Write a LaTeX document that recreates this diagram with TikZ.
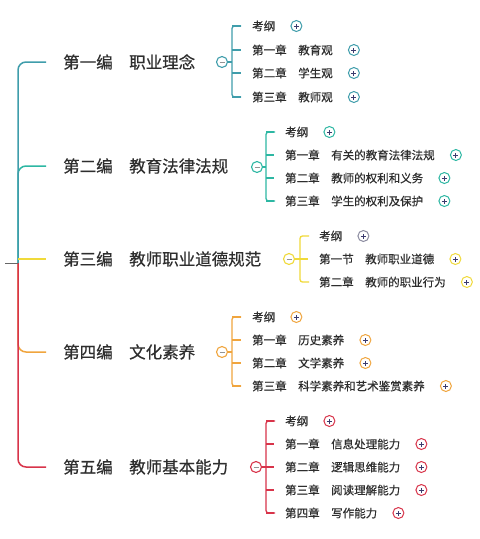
\documentclass[tikz,border=0pt]{standalone}
\usepackage{fontspec}
\setmainfont{Noto Sans CJK SC}
\newfontfamily\heavyfont{Noto Sans CJK SC}[FakeBold=0.5]
\usetikzlibrary{calc}
\definecolor{txt}{HTML}{2E2E2E}
\definecolor{cA}{HTML}{3F9DAB}
\definecolor{cB}{HTML}{2DB7A3}
\definecolor{cC}{HTML}{F0DA3A}
\definecolor{cD}{HTML}{F0A53E}
\definecolor{cE}{HTML}{D8344A}
\definecolor{pluscol}{HTML}{3B3B6E}
\definecolor{greyc}{HTML}{8C8CA0}
\definecolor{rootc}{HTML}{666666}
\tikzset{
  sec/.style={anchor=west, inner sep=0pt, font=\heavyfont\fontsize{16.5}{18}\selectfont, text=txt},
  chd/.style={anchor=west, inner sep=0pt, font=\heavyfont\fontsize{11.5}{13}\selectfont, text=txt},
  branchline/.style={draw=#1, line width=1.5pt, rounded corners=8pt},
  bracketline/.style={draw=#1, line width=1.3pt, rounded corners=2.5pt},
  plusc/.style={circle, draw=#1, line width=1pt, minimum size=11pt, inner sep=0pt, fill=white,
    path picture={
      \draw[pluscol, line width=0.9pt] ([xshift=-2.5pt]path picture bounding box.center) -- ([xshift=2.5pt]path picture bounding box.center);
      \draw[pluscol, line width=0.9pt] ([yshift=-2.5pt]path picture bounding box.center) -- ([yshift=2.5pt]path picture bounding box.center);
    }},
  minusc/.style={circle, draw=#1, line width=1.1pt, minimum size=11pt, inner sep=0pt, fill=white,
    path picture={
      \draw[rootc!70, line width=0.8pt] ([xshift=-2.5pt]path picture bounding box.center) -- ([xshift=2.5pt]path picture bounding box.center);
    }},
}
\begin{document}
\begin{tikzpicture}[x=1pt, y=-1pt]
\useasboundingbox[fill=white] (0,0) rectangle (480,539);

% root
\coordinate (root) at (18,263);
\coordinate (rootend) at (5,263);

% section nodes
\node[sec] (s1) at (63,62) {第一编　职业理念};
\node[sec] (s2) at (63,166) {第二编　教育法律法规};
\node[sec] (s3) at (63,259) {第三编　教师职业道德规范};
\node[sec] (s4) at (63,352) {第四编　文化素养};
\node[sec] (s5) at (63,467) {第五编　教师基本能力};

% section branches
\draw[branchline=cB] (root) -- (18,166) -- ([xshift=-17pt]s2.west);
\draw[branchline=cA] (root) -- (18,62) -- ([xshift=-17pt]s1.west);
\draw[branchline=cD] (root) -- (18,352) -- ([xshift=-17pt]s4.west);
\draw[branchline=cE] (root) -- (18,467) -- ([xshift=-17pt]s5.west);
\draw[draw=cC, line width=1.5pt] (18,259) -- ([xshift=-17pt]s3.west);
\draw[rootc, line width=1pt] (rootend) -- (root);

% ---------- section 1 ----------
\node[minusc=cA] (m1) at (222,62) {};
\draw[bracketline=cA] (241,26) -- (232,26) -- (232,97) -- (241,97);
\draw[cA, line width=1.3pt] (m1.east) -- (232,62);
\foreach \t/\y [count=\i] in {考纲/26, 第一章　教育观/50, 第二章　学生观/73, 第三章　教师观/97}{
  \node[chd] (a\i) at (252,\y) {\t};
  \node[plusc=cA] (pa\i) at ($(a\i.east)+(21,0)$) {};
  \draw[cA, line width=1.3pt] (232,\y) -- ([xshift=-11pt]a\i.west);
}

% ---------- section 2 ----------
\node[minusc=cB] (m2) at (257,167) {};
\draw[bracketline=cB] (275,132) -- (266,132) -- (266,201) -- (275,201);
\draw[cB, line width=1.3pt] (m2.east) -- (266,167);
\foreach \t/\y [count=\i] in {考纲/132, 第一章　有关的教育法律法规/155, 第二章　教师的权利和义务/178, 第三章　学生的权利及保护/201}{
  \node[chd] (b\i) at (285,\y) {\t};
  \node[plusc=cB] (pb\i) at ($(b\i.east)+(21,0)$) {};
  \draw[cB, line width=1.3pt] (266,\y) -- ([xshift=-11pt]b\i.west);
}

% ---------- section 3 ----------
\node[minusc=cC] (m3) at (289,259) {};
\draw[bracketline=cC] (309,236) -- (300,236) -- (300,282) -- (309,282);
\draw[cC, line width=1.3pt] (m3.east) -- (300,259);
\node[chd] (c1) at (319,236) {考纲};
\node[chd] (c2) at (319,259) {第一节　教师职业道德};
\node[chd] (c3) at (319,282) {第二章　教师的职业行为};
\node[plusc=greyc] (pc1) at ($(c1.east)+(21,0)$) {};
\node[plusc=cC] (pc2) at ($(c2.east)+(21,0)$) {};
\node[plusc=cC] (pc3) at ($(c3.east)+(21,0)$) {};
\draw[cC, line width=1.3pt] (300,259) -- ([xshift=-11pt]c2.west);

% ---------- section 4 ----------
\node[minusc=cD] (m4) at (222,352) {};
\draw[bracketline=cD] (241,317) -- (232,317) -- (232,386) -- (241,386);
\draw[cD, line width=1.3pt] (m4.east) -- (232,352);
\foreach \t/\y [count=\i] in {考纲/317, 第一章　历史素养/340, 第二章　文学素养/363, 第三章　科学素养和艺术鉴赏素养/386}{
  \node[chd] (d\i) at (252,\y) {\t};
  \node[plusc=cD] (pd\i) at ($(d\i.east)+(21,0)$) {};
  \draw[cD, line width=1.3pt] (232,\y) -- ([xshift=-11pt]d\i.west);
}

% ---------- section 5 ----------
\node[minusc=cE] (m5) at (256,467) {};
\draw[bracketline=cE] (275,421) -- (266,421) -- (266,513) -- (275,513);
\draw[cE, line width=1.3pt] (m5.east) -- (266,467);
\foreach \t/\y [count=\i] in {考纲/421, 第一章　信息处理能力/444, 第二章　逻辑思维能力/467, 第三章　阅读理解能力/490, 第四章　写作能力/513}{
  \node[chd] (e\i) at (285,\y) {\t};
  \node[plusc=cE] (pe\i) at ($(e\i.east)+(21,0)$) {};
  \draw[cE, line width=1.3pt] (266,\y) -- ([xshift=-11pt]e\i.west);
}
\end{tikzpicture}
\end{document}
